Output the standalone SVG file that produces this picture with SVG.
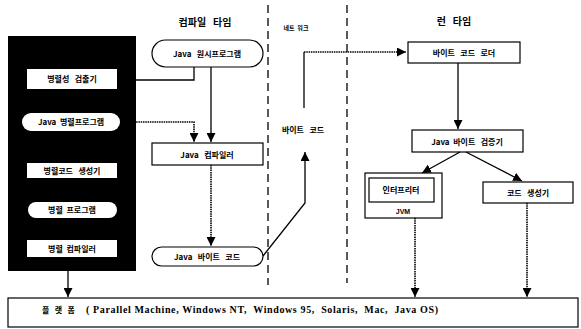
<svg xmlns="http://www.w3.org/2000/svg" width="581" height="329" viewBox="0 0 581 329">
<style>
text{font-family:"Noto Sans CJK KR","Liberation Sans",sans-serif;font-weight:bold;fill:#000;white-space:pre}
.t{font-size:8px}
.h{font-size:10px}
.box{fill:#fff;stroke:#000;stroke-width:1.2}
.ln{fill:none;stroke:#000;stroke-width:1.3}
.dt{fill:none;stroke:#000;stroke-width:1.6;stroke-dasharray:1.5 0.8}
.sep{fill:none;stroke:#000;stroke-width:1.3;stroke-dasharray:8 5}
.wb{fill:#fff;stroke:none}
</style>
<defs>
<marker id="ah" viewBox="0 0 10 10" refX="10" refY="5" markerWidth="9" markerHeight="9" markerUnits="userSpaceOnUse" orient="auto">
<path d="M0,0 L10,5 L0,10 z" fill="#000"/>
</marker>
</defs>
<rect width="581" height="329" fill="#fff"/>

<g id="separators">
<line class="sep" x1="268" y1="5" x2="268" y2="285"/>
<line class="sep" x1="347" y1="5" x2="347" y2="283"/>
</g>

<g id="labels">
<text class="h" x="205" y="26" text-anchor="middle">컴파일   타임</text>
<text x="296" y="30" text-anchor="middle" style="font-size:6px">네트  워크</text>
<text class="h" x="454" y="25" text-anchor="middle">런   타임</text>
<text class="t" x="303" y="133" text-anchor="middle">바이트   코드</text>
</g>

<g id="parallel-group">
<rect x="8" y="36" width="128" height="235" fill="#000"/>
<g id="detector"><rect class="wb" x="27" y="69" width="90" height="20"/><text class="t" x="72" y="82" text-anchor="middle">병렬성   검출기</text></g>
<g id="java-parallel"><rect class="wb" x="22" y="113" width="98" height="18" rx="9"/><text class="t" x="71" y="125" text-anchor="middle">Java  병렬프로그램</text></g>
<g id="pcodegen"><rect class="wb" x="27" y="163" width="90" height="15"/><text class="t" x="72" y="174" text-anchor="middle">병렬코드   생성기</text></g>
<g id="pprogram"><rect class="wb" x="28" y="202" width="89" height="16" rx="8"/><text class="t" x="72" y="213" text-anchor="middle">병렬  프로그램</text></g>
<g id="pcompiler"><rect class="wb" x="27" y="240" width="90" height="17"/><text class="t" x="72" y="252" text-anchor="middle">병렬  컴파일러</text></g>
</g>

<g id="java-source"><rect class="box" x="152" y="40" width="111" height="27" rx="13.5"/><text class="t" x="207" y="57" text-anchor="middle">Java   원시프로그램</text></g>
<g id="java-compiler"><rect class="box" x="152" y="143" width="111" height="22"/><text class="t" x="207" y="158" text-anchor="middle">Java   컴파일러</text></g>
<g id="java-bytecode"><rect class="box" x="152" y="247" width="111" height="19" rx="9.5"/><text class="t" x="207" y="260" text-anchor="middle">Java   바이트   코드</text></g>

<g id="loader"><rect class="box" x="408" y="42" width="112" height="21"/><text class="t" x="464" y="56" text-anchor="middle">바이트   코드   로더</text></g>
<g id="verifier"><rect class="box" x="412" y="130" width="111" height="22"/><text class="t" x="467" y="145" text-anchor="middle">Java  바이트   검증기</text></g>
<g id="jvm"><rect class="box" x="365" y="173" width="77" height="45"/><rect class="box" x="369" y="178" width="65" height="24"/><text class="t" x="401" y="193" text-anchor="middle">인터프리터</text><text x="403" y="214" text-anchor="middle" style="font-size:7px;font-family:'Liberation Sans',sans-serif">JVM</text></g>
<g id="codegen"><rect class="box" x="483" y="182" width="90" height="21"/><text class="t" x="528" y="196" text-anchor="middle">코드   생성기</text></g>

<g id="platform"><rect class="box" x="8" y="298" width="570" height="29"/>
<text class="t" x="42" y="313">플   랫   폼</text>
<text x="86" y="313" textLength="352" style="font-family:'Liberation Serif',serif;font-size:10px">( Parallel Machine, Windows NT,  Windows 95,  Solaris,  Mac,  Java OS)</text>
</g>

<g id="connectors">
<polyline class="ln" points="136,80 194,80 194,67"/>
<polyline class="dt" points="120,122 194,122 194,142" marker-end="url(#ah)"/>
<line class="ln" x1="211" y1="67" x2="211" y2="142" marker-end="url(#ah)"/>
<line class="dt" x1="211" y1="165" x2="211" y2="246" marker-end="url(#ah)"/>
<polyline class="ln" points="263,256 305,203 305,152" marker-end="url(#ah)"/>
<polyline class="ln" points="304,108 304,52"/>
<line class="dt" x1="304" y1="52" x2="406" y2="52" marker-end="url(#ah)"/>
<line class="ln" x1="458" y1="63" x2="458" y2="129" marker-end="url(#ah)"/>
<line class="ln" x1="460" y1="152" x2="422" y2="173" marker-end="url(#ah)"/>
<line class="ln" x1="466" y1="152" x2="522" y2="181" marker-end="url(#ah)"/>
<line class="dt" x1="415" y1="218" x2="415" y2="297" marker-end="url(#ah)"/>
<line class="dt" x1="527" y1="203" x2="527" y2="297" marker-end="url(#ah)"/>
<line class="ln" x1="68" y1="271" x2="68" y2="297" marker-end="url(#ah)"/>
</g>
</svg>
